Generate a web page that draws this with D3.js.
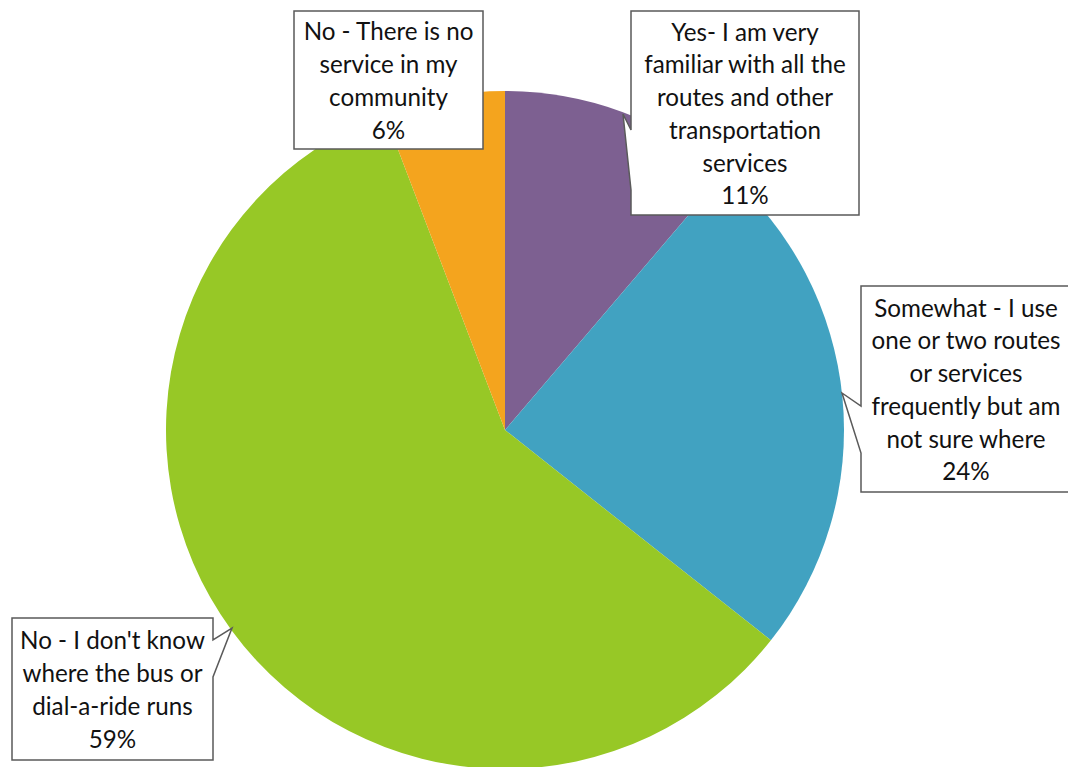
<!DOCTYPE html>
<html><head><meta charset="utf-8">
<script src="https://cdn.jsdelivr.net/npm/d3@7"></script>
<style>html,body{margin:0;padding:0;background:#fff;}svg{display:block;}</style>
</head><body>
<svg id="chart" width="1068" height="767"></svg>
<script>
const categories = [
  "Yes- I am very familiar with all the routes and other transportation services",
  "Somewhat - I use one or two routes or services frequently but am not sure where",
  "No - I don't know where the bus or dial-a-ride runs",
  "No - There is no service in my community"
];
const labelLines = [
  ["Yes- I am very", "familiar with all the", "routes and other", "transportation", "services"],
  ["Somewhat - I use", "one or two routes", "or services", "frequently but am", "not sure where"],
  ["No - I don't know", "where the bus or", "dial-a-ride runs"],
  ["No - There is no", "service in my", "community"]
];
const values = [11.25, 24.4, 58.55, 5.8];
const colors = ["#7D6091", "#41A2C1", "#97C826", "#F4A41E"];

// layout of callout boxes
const boxes = [
  {x0:631, y0:11, x1:859, y1:215, tip:[623,114], b:[130,190], side:"left"},
  {x0:861, y0:286, x1:1072, y1:492, tip:[842,393], b:[406,453], side:"left"},
  {x0:12, y0:618, x1:213, y1:760, tip:[232,628], b:[640,677], side:"right"},
  {x0:294, y0:11, x1:483, y1:149, tip:null}
];

const svg = d3.select("#chart");
const cx = 505, cy = 430, R = 339;
const total = d3.sum(values);
const pie = d3.pie().sort(null).value(d => d).startAngle(0).endAngle(2*Math.PI);
const arc = d3.arc().innerRadius(0).outerRadius(R);
const g = svg.append("g").attr("transform", `translate(${cx},${cy})`);
g.selectAll("path").data(pie(values)).enter().append("path")
  .attr("d", arc).attr("fill", (d,i) => colors[i]);

const fmt = v => Math.round(v / total * 100) + "%";
const lh = 32.7;
boxes.forEach((b, i) => {
  let p;
  if (!b.tip) {
    p = `M${b.x0},${b.y0}H${b.x1}V${b.y1}H${b.x0}Z`;
  } else if (b.side === "left") {
    p = `M${b.x0},${b.y0}H${b.x1}V${b.y1}H${b.x0}V${b.b[1]}L${b.tip[0]},${b.tip[1]}L${b.x0},${b.b[0]}Z`;
  } else {
    p = `M${b.x0},${b.y0}H${b.x1}V${b.b[0]}L${b.tip[0]},${b.tip[1]}L${b.x1},${b.b[1]}V${b.y1}H${b.x0}Z`;
  }
  svg.append("path").attr("d", p).attr("fill", "#fff").attr("stroke", "#5a5a5a").attr("stroke-width", 1.5);
  const lines = labelLines[i].concat([fmt(values[i])]);
  const midX = (b.x0 + b.x1) / 2, midY = (b.y0 + b.y1) / 2;
  const startY = midY - (lines.length - 1) * lh / 2;
  const t = svg.append("text").attr("font-family", "Lato, 'Open Sans', sans-serif")
    .attr("font-size", 24.2).attr("fill", "#111").attr("text-anchor", "middle");
  lines.forEach((ln, k) => {
    t.append("tspan").attr("x", i === 1 ? 966 : midX).attr("y", startY + k * lh)
      .attr("dominant-baseline", "central").text(ln);
  });
});
</script>
</body></html>
